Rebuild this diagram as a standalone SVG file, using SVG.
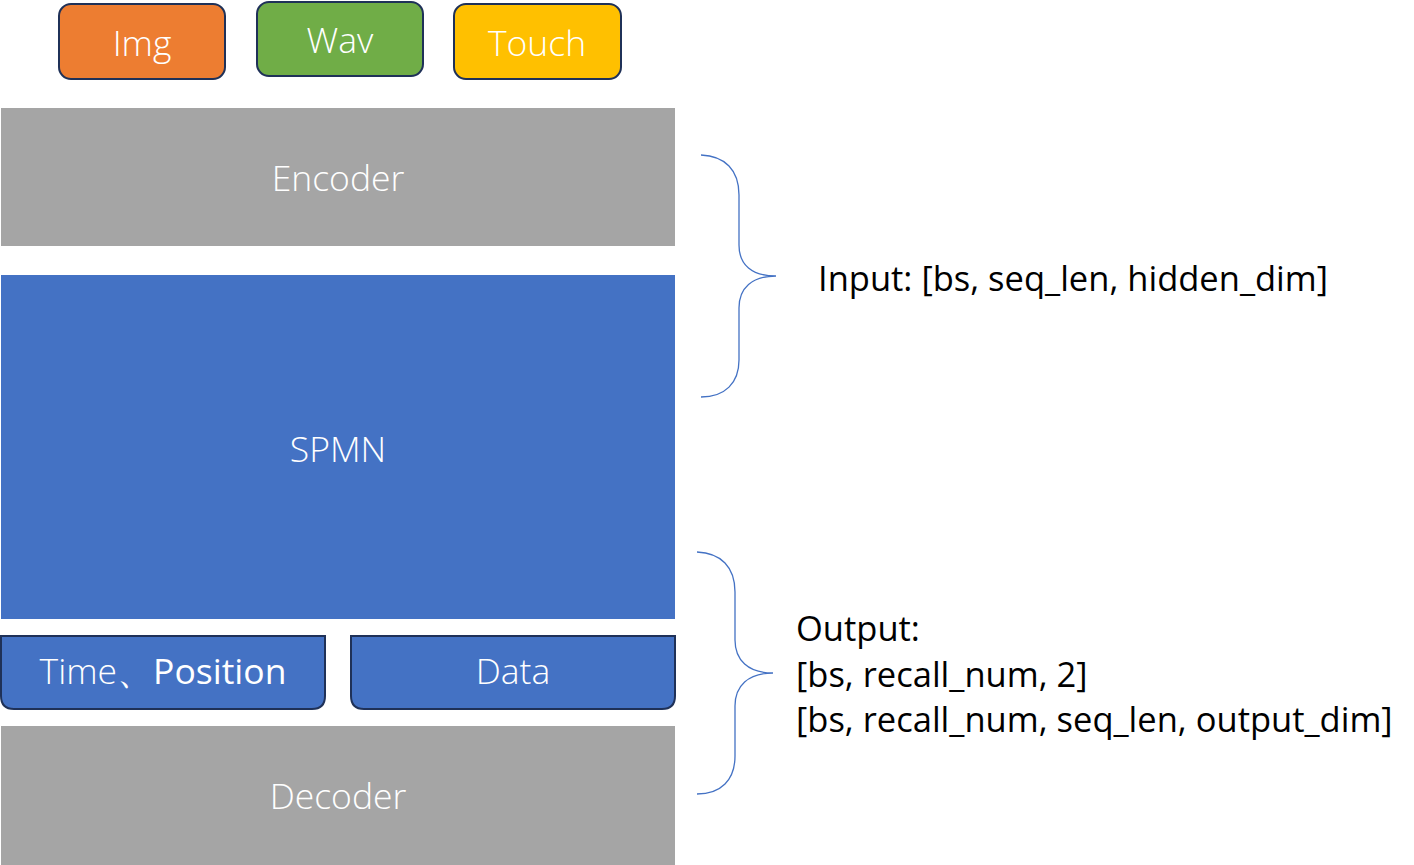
<svg xmlns="http://www.w3.org/2000/svg" width="1414" height="865" viewBox="0 0 1414 865">
<style>
.t{font-family:"Open Sans","Noto Sans","Liberation Sans",sans-serif;fill:#fff;font-size:35.5px;text-anchor:middle;font-weight:300}
.r{font-family:"Open Sans","Noto Sans","Liberation Sans",sans-serif;fill:#000;font-size:34.5px;font-weight:400}
.src{stroke:#1F3158;stroke-width:2}
.brace{fill:none;stroke:#4472C4;stroke-width:1.3}
</style>
<g id="img"><rect class="src" x="59" y="4" width="166" height="75" rx="12" fill="#ED7D31"/><text class="t" x="142" y="56">Img</text></g>
<g id="wav"><rect class="src" x="257" y="2" width="166" height="74" rx="12" fill="#70AD47"/><text class="t" x="340" y="53">Wav</text></g>
<g id="touch"><rect class="src" x="454" y="4" width="167" height="75" rx="12" fill="#FFC000"/><text class="t" x="537" y="56">Touch</text></g>
<g id="encoder"><rect x="1" y="108" width="674" height="138" fill="#A5A5A5"/><text class="t" x="338" y="191">Encoder</text></g>
<g id="spmn"><rect x="1" y="275" width="674" height="344" fill="#4472C4"/><text class="t" x="338" y="462">SPMN</text></g>
<g id="timepos"><path class="src" d="M1,636 H325 V696 Q325,709 312,709 H14 Q1,709 1,696 Z" fill="#4472C4"/><text class="t" x="163" y="684" font-size="34">Time、<tspan font-weight="500">Position</tspan></text></g>
<g id="data"><path class="src" d="M351,636 H675 V696 Q675,709 662,709 H364 Q351,709 351,696 Z" fill="#4472C4"/><text class="t" x="513" y="684">Data</text></g>
<g id="decoder"><rect x="1" y="726" width="674" height="139" fill="#A5A5A5"/><text class="t" x="338" y="809">Decoder</text></g>
<g id="connectors">
<path class="brace" d="M701,155 C725,156 739,170 739,195 V245 C739,265 752,276 776,276 C752,276 739,288 739,308 V360 C739,383 725,397 701,397"/>
<path class="brace" d="M697,552 C721,553 735,567 735,592 V640 C735,660 748,673 773,673 C748,673 735,686 735,706 V756 C735,780 721,794 697,794"/>
</g>
<g id="labels">
<text class="r" x="818" y="291">Input: [bs, seq_len, hidden_dim]</text>
<text class="r" x="796" y="641">Output:</text>
<text class="r" x="796" y="687">[bs, recall_num, 2]</text>
<text class="r" x="796" y="732">[bs, recall_num, seq_len, output_dim]</text>
</g>
</svg>
